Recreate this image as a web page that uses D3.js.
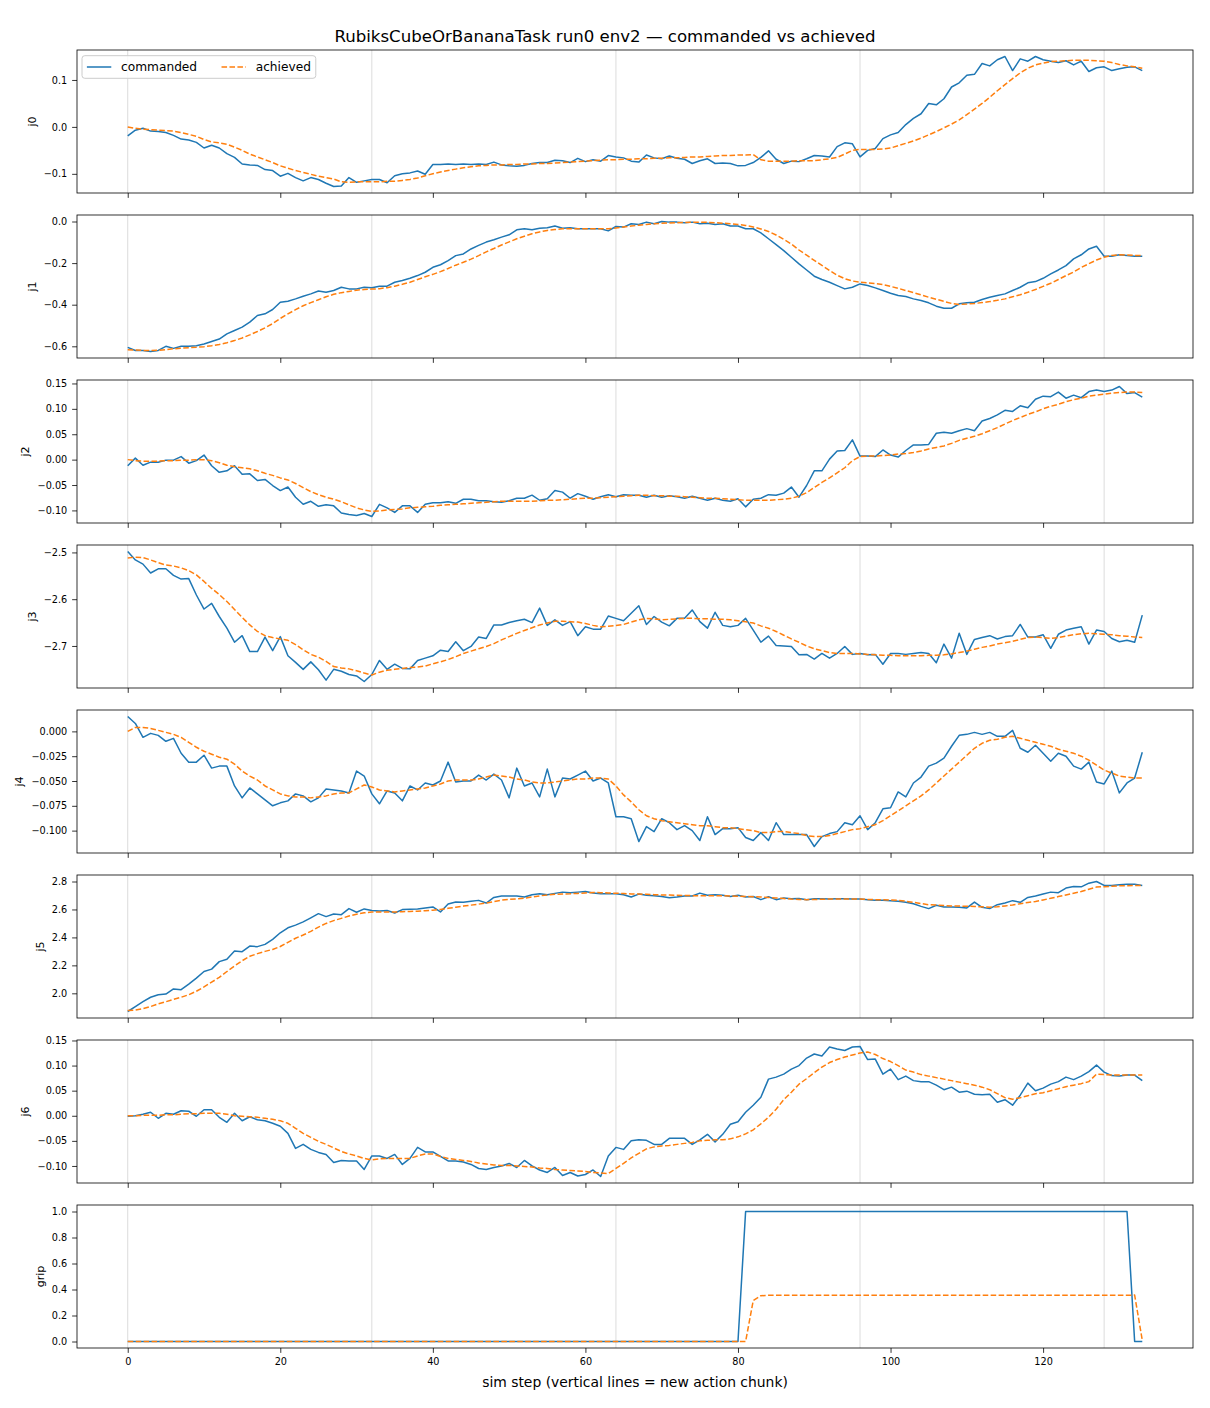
<!DOCTYPE html>
<html>
<head>
<meta charset="utf-8">
<script src="https://cdn.jsdelivr.net/npm/d3@7"></script>
<style>
  body { margin: 0; background: #fff; }
  svg text { font-family: "DejaVu Sans", sans-serif; fill: #000; }
</style>
</head>
<body>
<svg id="fig" width="1210" height="1408"></svg>
<script>
var title = "RubiksCubeOrBananaTask run0 env2 \u2014 commanded vs achieved";
var xLabel = "sim step (vertical lines = new action chunk)";
var steps = d3.range(134);               // sim step index 0..133
var chunkStarts = [0, 32, 64, 96, 128];  // new action chunk
var xTicks = [0, 20, 40, 60, 80, 100, 120];
var jointNames = ["j0", "j1", "j2", "j3", "j4", "j5", "j6", "grip"];

var j0Ticks = [-0.1, 0.0, 0.1];
var j1Ticks = [-0.6, -0.4, -0.2, 0.0];
var j2Ticks = [-0.10, -0.05, 0.00, 0.05, 0.10, 0.15];
var j3Ticks = [-2.7, -2.6, -2.5];
var j4Ticks = [-0.100, -0.075, -0.050, -0.025, 0.000];
var j5Ticks = [2.0, 2.2, 2.4, 2.6, 2.8];
var j6Ticks = [-0.10, -0.05, 0.00, 0.05, 0.10, 0.15];
var gripTicks = [0.0, 0.2, 0.4, 0.6, 0.8, 1.0];
var tickFormats = [".1f", ".1f", ".2f", ".1f", ".3f", ".1f", ".2f", ".1f"];

var j0Cmd = [-0.019,-0.007,-0.003,-0.009,-0.01,-0.012,-0.018,-0.026,-0.028,-0.033,
  -0.045,-0.039,-0.045,-0.057,-0.065,-0.079,-0.081,-0.082,-0.091,-0.093,
  -0.105,-0.099,-0.108,-0.115,-0.108,-0.112,-0.12,-0.127,-0.126,-0.108,
  -0.118,-0.115,-0.112,-0.112,-0.119,-0.104,-0.1,-0.098,-0.094,-0.101,
  -0.08,-0.08,-0.079,-0.08,-0.079,-0.08,-0.079,-0.08,-0.075,-0.081,
  -0.083,-0.084,-0.082,-0.078,-0.076,-0.076,-0.071,-0.072,-0.076,-0.067,
  -0.074,-0.07,-0.073,-0.061,-0.064,-0.066,-0.073,-0.075,-0.06,-0.066,
  -0.068,-0.062,-0.067,-0.069,-0.078,-0.072,-0.068,-0.078,-0.077,-0.078,
  -0.083,-0.082,-0.076,-0.065,-0.051,-0.069,-0.078,-0.073,-0.074,-0.068,
  -0.061,-0.062,-0.064,-0.042,-0.034,-0.036,-0.064,-0.05,-0.046,-0.025,
  -0.017,-0.012,0.005,0.018,0.028,0.05,0.047,0.06,0.085,0.094,
  0.11,0.112,0.135,0.13,0.143,0.15,0.12,0.145,0.14,0.15,
  0.143,0.14,0.137,0.141,0.132,0.14,0.118,0.126,0.128,0.12,
  0.124,0.127,0.128,0.12];
var j0Ach = [0,-0.003,-0.005,-0.006,-0.007,-0.008,-0.009,-0.012,-0.016,-0.02,
  -0.027,-0.032,-0.034,-0.037,-0.043,-0.05,-0.058,-0.064,-0.07,-0.076,
  -0.083,-0.088,-0.093,-0.097,-0.101,-0.105,-0.108,-0.111,-0.117,-0.118,
  -0.117,-0.117,-0.117,-0.117,-0.116,-0.116,-0.114,-0.112,-0.109,-0.104,
  -0.1,-0.096,-0.093,-0.09,-0.087,-0.085,-0.083,-0.082,-0.081,-0.081,
  -0.08,-0.08,-0.079,-0.079,-0.078,-0.078,-0.077,-0.076,-0.075,-0.074,
  -0.073,-0.072,-0.071,-0.07,-0.07,-0.069,-0.069,-0.068,-0.068,-0.067,
  -0.067,-0.066,-0.066,-0.065,-0.064,-0.064,-0.063,-0.062,-0.061,-0.061,
  -0.06,-0.06,-0.059,-0.07,-0.073,-0.073,-0.073,-0.073,-0.072,-0.072,
  -0.072,-0.07,-0.068,-0.065,-0.058,-0.05,-0.048,-0.048,-0.048,-0.047,
  -0.045,-0.04,-0.035,-0.03,-0.024,-0.017,-0.01,-0.002,0.006,0.015,
  0.026,0.038,0.05,0.063,0.077,0.09,0.103,0.115,0.125,0.132,
  0.136,0.139,0.14,0.141,0.142,0.142,0.142,0.141,0.14,0.137,
  0.133,0.13,0.128,0.125];

var j1Cmd = [-0.605,-0.62,-0.62,-0.625,-0.62,-0.6,-0.61,-0.6,-0.6,-0.597,
  -0.589,-0.577,-0.565,-0.54,-0.524,-0.508,-0.484,-0.452,-0.444,-0.423,
  -0.388,-0.383,-0.372,-0.359,-0.348,-0.334,-0.34,-0.332,-0.316,-0.324,
  -0.324,-0.316,-0.319,-0.311,-0.311,-0.292,-0.284,-0.273,-0.26,-0.244,
  -0.22,-0.208,-0.188,-0.164,-0.156,-0.132,-0.115,-0.099,-0.088,-0.075,
  -0.064,-0.04,-0.035,-0.04,-0.032,-0.03,-0.022,-0.032,-0.03,-0.035,
  -0.035,-0.035,-0.035,-0.045,-0.024,-0.027,-0.011,-0.014,-0.003,-0.011,
  0,-0.003,-0.003,-0.006,-0.003,-0.011,-0.008,-0.014,-0.011,-0.022,
  -0.022,-0.035,-0.035,-0.055,-0.083,-0.111,-0.14,-0.172,-0.204,-0.233,
  -0.263,-0.279,-0.292,-0.308,-0.324,-0.316,-0.3,-0.308,-0.319,-0.332,
  -0.345,-0.356,-0.361,-0.372,-0.38,-0.391,-0.407,-0.417,-0.417,-0.396,
  -0.391,-0.388,-0.375,-0.364,-0.356,-0.348,-0.332,-0.316,-0.295,-0.289,
  -0.273,-0.252,-0.233,-0.212,-0.18,-0.16,-0.132,-0.119,-0.167,-0.167,
  -0.16,-0.164,-0.167,-0.167];
var j1Ach = [-0.616,-0.618,-0.62,-0.62,-0.619,-0.616,-0.612,-0.609,-0.607,-0.605,
  -0.602,-0.597,-0.591,-0.583,-0.572,-0.56,-0.545,-0.529,-0.511,-0.491,
  -0.466,-0.444,-0.424,-0.405,-0.39,-0.376,-0.362,-0.35,-0.342,-0.336,
  -0.33,-0.327,-0.325,-0.323,-0.318,-0.311,-0.302,-0.292,-0.279,-0.266,
  -0.254,-0.241,-0.226,-0.21,-0.196,-0.181,-0.164,-0.146,-0.13,-0.113,
  -0.098,-0.083,-0.071,-0.059,-0.05,-0.043,-0.039,-0.035,-0.035,-0.035,
  -0.035,-0.035,-0.035,-0.035,-0.031,-0.026,-0.022,-0.018,-0.014,-0.011,
  -0.009,-0.007,-0.006,-0.005,-0.004,-0.003,-0.004,-0.006,-0.008,-0.011,
  -0.014,-0.019,-0.026,-0.036,-0.048,-0.065,-0.086,-0.108,-0.137,-0.162,
  -0.187,-0.211,-0.236,-0.258,-0.275,-0.286,-0.292,-0.295,-0.298,-0.303,
  -0.312,-0.321,-0.332,-0.342,-0.353,-0.364,-0.374,-0.384,-0.394,-0.399,
  -0.397,-0.394,-0.39,-0.385,-0.379,-0.372,-0.362,-0.352,-0.34,-0.327,
  -0.312,-0.297,-0.279,-0.26,-0.243,-0.221,-0.203,-0.185,-0.172,-0.163,
  -0.16,-0.161,-0.163,-0.164];

var j2Cmd = [-0.012,0.003,-0.011,-0.005,-0.005,-0.001,-0.001,0.006,-0.007,-0.002,
  0.009,-0.012,-0.025,-0.022,-0.012,-0.029,-0.028,-0.041,-0.039,-0.051,
  -0.061,-0.054,-0.074,-0.088,-0.082,-0.092,-0.089,-0.091,-0.105,-0.108,
  -0.11,-0.106,-0.112,-0.088,-0.095,-0.104,-0.091,-0.091,-0.104,-0.088,
  -0.085,-0.085,-0.083,-0.086,-0.078,-0.078,-0.081,-0.081,-0.083,-0.084,
  -0.081,-0.076,-0.076,-0.07,-0.08,-0.077,-0.061,-0.064,-0.076,-0.067,
  -0.072,-0.078,-0.073,-0.069,-0.073,-0.069,-0.07,-0.07,-0.074,-0.07,
  -0.074,-0.071,-0.073,-0.076,-0.072,-0.076,-0.08,-0.076,-0.08,-0.082,
  -0.077,-0.093,-0.078,-0.076,-0.069,-0.07,-0.066,-0.054,-0.074,-0.051,
  -0.022,-0.022,0.001,0.017,0.018,0.039,0.007,0.007,0.006,0.019,
  0.009,0.005,0.018,0.029,0.029,0.03,0.052,0.054,0.052,0.057,
  0.061,0.057,0.076,0.081,0.088,0.097,0.095,0.106,0.102,0.119,
  0.125,0.124,0.133,0.121,0.127,0.122,0.134,0.137,0.134,0.137,
  0.144,0.13,0.132,0.123];
var j2Ach = [0,-0.002,-0.003,-0.003,-0.003,-0.002,-0.002,-0.001,-0.001,0,
  0,-0.002,-0.006,-0.011,-0.014,-0.016,-0.018,-0.022,-0.027,-0.031,
  -0.036,-0.04,-0.047,-0.055,-0.063,-0.069,-0.074,-0.078,-0.083,-0.089,
  -0.095,-0.099,-0.102,-0.101,-0.099,-0.098,-0.097,-0.095,-0.094,-0.093,
  -0.092,-0.09,-0.089,-0.088,-0.087,-0.086,-0.085,-0.084,-0.083,-0.082,
  -0.082,-0.082,-0.082,-0.082,-0.081,-0.08,-0.08,-0.079,-0.078,-0.077,
  -0.076,-0.076,-0.075,-0.074,-0.073,-0.072,-0.071,-0.07,-0.07,-0.071,
  -0.071,-0.072,-0.072,-0.073,-0.074,-0.075,-0.076,-0.076,-0.077,-0.078,
  -0.079,-0.08,-0.08,-0.08,-0.08,-0.079,-0.078,-0.076,-0.072,-0.065,
  -0.055,-0.045,-0.036,-0.026,-0.016,-0.002,0.006,0.007,0.007,0.008,
  0.009,0.011,0.012,0.014,0.017,0.021,0.024,0.027,0.032,0.038,
  0.042,0.046,0.051,0.057,0.063,0.07,0.077,0.083,0.089,0.094,
  0.1,0.105,0.109,0.114,0.118,0.121,0.125,0.127,0.129,0.131,
  0.132,0.133,0.133,0.132];

var j3Cmd = [-2.498,-2.516,-2.525,-2.544,-2.535,-2.535,-2.549,-2.557,-2.556,-2.591,
  -2.621,-2.609,-2.637,-2.662,-2.692,-2.678,-2.712,-2.712,-2.681,-2.71,
  -2.68,-2.721,-2.735,-2.75,-2.734,-2.751,-2.773,-2.75,-2.754,-2.761,
  -2.764,-2.776,-2.761,-2.731,-2.75,-2.739,-2.748,-2.749,-2.731,-2.726,
  -2.721,-2.709,-2.712,-2.691,-2.71,-2.701,-2.681,-2.684,-2.655,-2.655,
  -2.65,-2.646,-2.643,-2.65,-2.619,-2.656,-2.644,-2.656,-2.648,-2.678,
  -2.659,-2.664,-2.664,-2.636,-2.641,-2.646,-2.63,-2.614,-2.654,-2.637,
  -2.649,-2.657,-2.641,-2.641,-2.623,-2.648,-2.662,-2.628,-2.656,-2.659,
  -2.656,-2.641,-2.666,-2.692,-2.679,-2.699,-2.7,-2.701,-2.719,-2.718,
  -2.728,-2.716,-2.726,-2.716,-2.701,-2.718,-2.716,-2.719,-2.718,-2.739,
  -2.716,-2.716,-2.718,-2.716,-2.714,-2.716,-2.736,-2.696,-2.726,-2.673,
  -2.718,-2.686,-2.682,-2.678,-2.685,-2.68,-2.678,-2.654,-2.681,-2.681,
  -2.676,-2.705,-2.675,-2.666,-2.662,-2.659,-2.696,-2.666,-2.669,-2.684,
  -2.691,-2.688,-2.692,-2.634];
var j3Ach = [-2.512,-2.51,-2.511,-2.516,-2.522,-2.527,-2.529,-2.533,-2.539,-2.548,
  -2.562,-2.577,-2.59,-2.605,-2.622,-2.639,-2.655,-2.669,-2.678,-2.682,
  -2.685,-2.688,-2.697,-2.708,-2.718,-2.724,-2.733,-2.744,-2.747,-2.749,
  -2.753,-2.758,-2.762,-2.756,-2.752,-2.75,-2.748,-2.746,-2.745,-2.743,
  -2.738,-2.734,-2.729,-2.723,-2.716,-2.711,-2.706,-2.701,-2.695,-2.687,
  -2.68,-2.673,-2.667,-2.661,-2.655,-2.651,-2.647,-2.647,-2.648,-2.649,
  -2.652,-2.656,-2.659,-2.658,-2.656,-2.654,-2.649,-2.644,-2.641,-2.642,
  -2.644,-2.643,-2.642,-2.641,-2.641,-2.642,-2.642,-2.643,-2.643,-2.644,
  -2.646,-2.648,-2.651,-2.657,-2.662,-2.669,-2.677,-2.685,-2.692,-2.7,
  -2.706,-2.71,-2.714,-2.716,-2.716,-2.716,-2.717,-2.718,-2.719,-2.72,
  -2.72,-2.721,-2.721,-2.721,-2.721,-2.72,-2.72,-2.719,-2.717,-2.714,
  -2.711,-2.707,-2.703,-2.7,-2.696,-2.693,-2.69,-2.686,-2.682,-2.681,
  -2.682,-2.684,-2.682,-2.679,-2.676,-2.674,-2.673,-2.674,-2.675,-2.676,
  -2.678,-2.679,-2.681,-2.682];

var j4Cmd = [0.015,0.008,-0.006,-0.002,-0.004,-0.01,-0.007,-0.022,-0.031,-0.031,
  -0.024,-0.037,-0.035,-0.035,-0.055,-0.067,-0.057,-0.063,-0.069,-0.075,
  -0.072,-0.07,-0.063,-0.065,-0.071,-0.067,-0.058,-0.059,-0.06,-0.062,
  -0.04,-0.045,-0.063,-0.073,-0.06,-0.062,-0.07,-0.055,-0.059,-0.052,
  -0.054,-0.05,-0.031,-0.051,-0.05,-0.05,-0.044,-0.049,-0.043,-0.049,
  -0.067,-0.037,-0.055,-0.052,-0.066,-0.038,-0.066,-0.047,-0.048,-0.044,
  -0.04,-0.05,-0.047,-0.052,-0.086,-0.086,-0.088,-0.111,-0.096,-0.101,
  -0.088,-0.092,-0.099,-0.095,-0.1,-0.11,-0.086,-0.104,-0.098,-0.098,
  -0.097,-0.107,-0.11,-0.102,-0.11,-0.092,-0.104,-0.104,-0.104,-0.104,
  -0.116,-0.106,-0.103,-0.101,-0.092,-0.094,-0.085,-0.099,-0.092,-0.078,
  -0.077,-0.061,-0.066,-0.052,-0.046,-0.035,-0.032,-0.027,-0.015,-0.004,
  -0.003,-0.001,-0.003,-0.001,-0.005,-0.005,0.001,-0.017,-0.021,-0.014,
  -0.022,-0.03,-0.022,-0.025,-0.035,-0.038,-0.031,-0.051,-0.053,-0.04,
  -0.062,-0.052,-0.047,-0.021];
var j4Ach = [0,0.004,0.004,0.003,0.001,-0.001,-0.003,-0.006,-0.011,-0.016,
  -0.02,-0.023,-0.026,-0.028,-0.033,-0.04,-0.045,-0.049,-0.055,-0.059,
  -0.063,-0.065,-0.066,-0.066,-0.067,-0.066,-0.065,-0.063,-0.062,-0.062,
  -0.058,-0.054,-0.056,-0.059,-0.06,-0.061,-0.06,-0.059,-0.058,-0.057,
  -0.055,-0.053,-0.05,-0.049,-0.049,-0.049,-0.048,-0.046,-0.044,-0.045,
  -0.046,-0.048,-0.049,-0.051,-0.052,-0.052,-0.051,-0.05,-0.049,-0.048,
  -0.048,-0.047,-0.047,-0.048,-0.055,-0.064,-0.071,-0.079,-0.085,-0.088,
  -0.09,-0.091,-0.092,-0.093,-0.094,-0.095,-0.095,-0.096,-0.097,-0.097,
  -0.098,-0.099,-0.1,-0.102,-0.102,-0.101,-0.101,-0.102,-0.103,-0.105,
  -0.106,-0.106,-0.105,-0.103,-0.101,-0.099,-0.098,-0.096,-0.094,-0.09,
  -0.085,-0.08,-0.075,-0.07,-0.065,-0.059,-0.052,-0.045,-0.038,-0.031,
  -0.024,-0.017,-0.012,-0.009,-0.008,-0.006,-0.005,-0.007,-0.009,-0.011,
  -0.013,-0.015,-0.018,-0.02,-0.022,-0.025,-0.029,-0.034,-0.039,-0.042,
  -0.045,-0.046,-0.047,-0.047];

var j5Cmd = [1.87,1.905,1.94,1.972,1.99,1.995,2.031,2.026,2.066,2.109,
  2.156,2.173,2.227,2.244,2.303,2.298,2.338,2.334,2.35,2.386,
  2.433,2.469,2.488,2.511,2.54,2.57,2.549,2.568,2.563,2.606,
  2.58,2.604,2.592,2.589,2.592,2.575,2.599,2.601,2.604,2.611,
  2.618,2.582,2.639,2.653,2.651,2.658,2.665,2.646,2.686,2.696,
  2.696,2.696,2.689,2.705,2.712,2.705,2.715,2.724,2.72,2.724,
  2.729,2.717,2.712,2.712,2.712,2.705,2.689,2.71,2.701,2.698,
  2.693,2.684,2.689,2.696,2.696,2.717,2.701,2.705,2.701,2.693,
  2.701,2.689,2.693,2.67,2.691,2.67,2.682,2.677,2.679,2.67,
  2.677,2.677,2.675,2.677,2.677,2.675,2.675,2.67,2.665,2.665,
  2.663,2.658,2.651,2.641,2.622,2.606,2.63,2.618,2.618,2.615,
  2.611,2.653,2.615,2.606,2.634,2.646,2.663,2.651,2.686,2.696,
  2.71,2.724,2.72,2.753,2.764,2.762,2.788,2.8,2.772,2.772,
  2.776,2.781,2.781,2.772];
var j5Ach = [1.878,1.88,1.89,1.905,1.925,1.94,1.957,1.972,1.99,2.015,
  2.046,2.08,2.114,2.156,2.196,2.233,2.265,2.284,2.3,2.314,
  2.335,2.365,2.394,2.417,2.443,2.474,2.5,2.52,2.536,2.553,
  2.566,2.576,2.582,2.582,2.582,2.582,2.584,2.586,2.587,2.591,
  2.595,2.6,2.608,2.616,2.624,2.631,2.638,2.646,2.656,2.667,
  2.672,2.676,2.681,2.689,2.697,2.704,2.708,2.711,2.712,2.715,
  2.718,2.722,2.72,2.718,2.716,2.714,2.711,2.71,2.708,2.706,
  2.704,2.703,2.702,2.7,2.699,2.698,2.698,2.698,2.698,2.697,
  2.695,2.693,2.691,2.689,2.686,2.682,2.678,2.674,2.672,2.67,
  2.671,2.673,2.675,2.675,2.675,2.675,2.674,2.672,2.67,2.669,
  2.667,2.665,2.659,2.651,2.642,2.634,2.631,2.628,2.625,2.624,
  2.623,2.621,2.619,2.616,2.619,2.625,2.632,2.641,2.65,2.657,
  2.668,2.68,2.692,2.704,2.716,2.728,2.745,2.76,2.763,2.766,
  2.769,2.77,2.771,2.772];

var j6Cmd = [-0.001,0,0.003,0.007,-0.005,0.005,0.003,0.01,0.009,-0.001,
  0.012,0.012,-0.003,-0.013,0.005,-0.01,-0.002,-0.008,-0.01,-0.015,
  -0.021,-0.035,-0.065,-0.057,-0.067,-0.073,-0.077,-0.093,-0.089,-0.09,
  -0.09,-0.107,-0.08,-0.08,-0.085,-0.077,-0.097,-0.085,-0.063,-0.072,
  -0.072,-0.081,-0.09,-0.09,-0.092,-0.097,-0.105,-0.107,-0.103,-0.1,
  -0.095,-0.103,-0.089,-0.1,-0.108,-0.113,-0.103,-0.119,-0.113,-0.12,
  -0.117,-0.108,-0.121,-0.08,-0.063,-0.067,-0.05,-0.048,-0.049,-0.057,
  -0.057,-0.045,-0.045,-0.045,-0.057,-0.048,-0.037,-0.052,-0.037,-0.017,
  -0.012,0.007,0.021,0.037,0.073,0.077,0.083,0.093,0.1,0.115,
  0.123,0.119,0.137,0.133,0.13,0.137,0.138,0.112,0.113,0.083,
  0.093,0.072,0.079,0.07,0.068,0.068,0.061,0.052,0.057,0.047,
  0.049,0.043,0.042,0.043,0.027,0.032,0.021,0.041,0.065,0.05,
  0.055,0.063,0.068,0.077,0.072,0.079,0.088,0.101,0.087,0.08,
  0.079,0.081,0.081,0.07];
var j6Ach = [0,0,0.001,0.001,0.001,0.002,0.002,0.003,0.004,0.004,
  0.005,0.005,0.005,0.003,0,-0.001,-0.002,-0.003,-0.005,-0.007,
  -0.01,-0.015,-0.025,-0.035,-0.043,-0.051,-0.057,-0.064,-0.071,-0.076,
  -0.08,-0.085,-0.088,-0.086,-0.085,-0.085,-0.085,-0.085,-0.08,-0.076,
  -0.076,-0.081,-0.085,-0.087,-0.089,-0.091,-0.094,-0.096,-0.098,-0.099,
  -0.099,-0.1,-0.101,-0.102,-0.104,-0.105,-0.107,-0.108,-0.109,-0.11,
  -0.111,-0.113,-0.114,-0.115,-0.105,-0.095,-0.084,-0.075,-0.066,-0.062,
  -0.06,-0.059,-0.057,-0.055,-0.053,-0.05,-0.049,-0.048,-0.048,-0.046,
  -0.042,-0.036,-0.028,-0.016,-0.003,0.013,0.032,0.047,0.063,0.074,
  0.086,0.097,0.106,0.112,0.117,0.121,0.125,0.127,0.122,0.114,
  0.108,0.1,0.091,0.087,0.082,0.079,0.076,0.073,0.07,0.067,
  0.064,0.061,0.057,0.052,0.044,0.036,0.033,0.036,0.04,0.044,
  0.046,0.05,0.054,0.058,0.061,0.064,0.068,0.083,0.082,0.081,
  0.081,0.081,0.081,0.081];

var gripCmd = [0,0,0,0,0,0,0,0,0,0, 0,0,0,0,0,0,0,0,0,0,
  0,0,0,0,0,0,0,0,0,0, 0,0,0,0,0,0,0,0,0,0,
  0,0,0,0,0,0,0,0,0,0, 0,0,0,0,0,0,0,0,0,0,
  0,0,0,0,0,0,0,0,0,0, 0,0,0,0,0,0,0,0,0,0,
  0,1,1,1,1,1,1,1,1,1, 1,1,1,1,1,1,1,1,1,1,
  1,1,1,1,1,1,1,1,1,1, 1,1,1,1,1,1,1,1,1,1,
  1,1,1,1,1,1,1,1,1,1, 1,1,0,0];
var gripAch = [0,0,0,0,0,0,0,0,0,0, 0,0,0,0,0,0,0,0,0,0,
  0,0,0,0,0,0,0,0,0,0, 0,0,0,0,0,0,0,0,0,0,
  0,0,0,0,0,0,0,0,0,0, 0,0,0,0,0,0,0,0,0,0,
  0,0,0,0,0,0,0,0,0,0, 0,0,0,0,0,0,0,0,0,0,
  0,0,0.315,0.352,0.355,0.355,0.355,0.355,0.355,0.355,
  0.355,0.355,0.355,0.355,0.355,0.355,0.355,0.355,0.355,0.355,
  0.355,0.356,0.356,0.356,0.356,0.356,0.356,0.356,0.356,0.356,
  0.356,0.356,0.356,0.356,0.356,0.356,0.356,0.356,0.356,0.356,
  0.356,0.356,0.356,0.356,0.356,0.356,0.356,0.356,0.356,0.356,
  0.356,0.356,0.357,0.01];

var panels = [
  { name: jointNames[0], cmd: j0Cmd, ach: j0Ach, ticks: j0Ticks, fmt: tickFormats[0] },
  { name: jointNames[1], cmd: j1Cmd, ach: j1Ach, ticks: j1Ticks, fmt: tickFormats[1] },
  { name: jointNames[2], cmd: j2Cmd, ach: j2Ach, ticks: j2Ticks, fmt: tickFormats[2] },
  { name: jointNames[3], cmd: j3Cmd, ach: j3Ach, ticks: j3Ticks, fmt: tickFormats[3] },
  { name: jointNames[4], cmd: j4Cmd, ach: j4Ach, ticks: j4Ticks, fmt: tickFormats[4] },
  { name: jointNames[5], cmd: j5Cmd, ach: j5Ach, ticks: j5Ticks, fmt: tickFormats[5] },
  { name: jointNames[6], cmd: j6Cmd, ach: j6Ach, ticks: j6Ticks, fmt: tickFormats[6] },
  { name: jointNames[7], cmd: gripCmd, ach: gripAch, ticks: gripTicks, fmt: tickFormats[7] }
];

var svg = d3.select("#fig");
var left = 77, right = 1193, top0 = 50, pitch = 165, ph = 143;
var blue = "#1f77b4", orange = "#ff7f0e";

var xMax = steps[steps.length - 1];
var x = d3.scaleLinear()
    .domain([-0.05 * xMax, xMax * 1.05])
    .range([left, right]);

svg.append("text")
    .attr("x", 605)
    .attr("y", 42)
    .attr("text-anchor", "middle")
    .style("font-size", "16.6px")
    .text(title);

panels.forEach(function (p, k) {
    var g = svg.append("g")
        .attr("transform", "translate(0," + (top0 + k * pitch) + ")");

    var lo = Math.min(d3.min(p.cmd), d3.min(p.ach));
    var hi = Math.max(d3.max(p.cmd), d3.max(p.ach));
    var pad = (hi - lo) * 0.05;
    var y = d3.scaleLinear().domain([lo - pad, hi + pad]).range([ph, 0]);

    // action chunk markers
    g.selectAll(".chunk")
        .data(chunkStarts)
        .enter().append("line")
        .attr("class", "chunk")
        .attr("x1", function (d) { return x(d); })
        .attr("x2", function (d) { return x(d); })
        .attr("y1", 0)
        .attr("y2", ph)
        .style("stroke", "#dcdcdc")
        .style("stroke-width", 1);

    var line = d3.line()
        .x(function (d, i) { return x(steps[i]); })
        .y(function (d) { return y(d); });

    g.append("path")
        .attr("d", line(p.cmd))
        .style("fill", "none")
        .style("stroke", blue)
        .style("stroke-width", 1.5)
        .style("stroke-linejoin", "round");

    g.append("path")
        .attr("d", line(p.ach))
        .style("fill", "none")
        .style("stroke", orange)
        .style("stroke-width", 1.5)
        .style("stroke-dasharray", "5.55,2.4")
        .style("stroke-linejoin", "round");

    g.append("rect")
        .attr("x", left)
        .attr("y", 0)
        .attr("width", right - left)
        .attr("height", ph)
        .style("fill", "none")
        .style("stroke", "#000")
        .style("stroke-width", 0.8);

    var ya = g.append("g")
        .attr("transform", "translate(" + left + ",0)")
        .attr("color", "#000")
        .call(d3.axisLeft(y).tickValues(p.ticks).tickFormat(d3.format(p.fmt))
            .tickSize(4.86).tickPadding(4.86).tickSizeOuter(0));
    ya.select(".domain").remove();
    ya.selectAll("line").style("stroke-width", 0.8);
    ya.selectAll("text").style("font-size", "9.7px");

    var xa = g.append("g")
        .attr("transform", "translate(0," + ph + ")")
        .attr("color", "#000")
        .call(d3.axisBottom(x).tickValues(xTicks).tickFormat(d3.format("d"))
            .tickSize(4.86).tickPadding(4.86).tickSizeOuter(0));
    xa.select(".domain").remove();
    xa.selectAll("line").style("stroke-width", 0.8);
    xa.selectAll("text").style("font-size", "9.7px");
    if (k < panels.length - 1) xa.selectAll("text").remove();

    var bb = ya.node().getBBox();
    g.append("text")
        .attr("transform", "translate(" + (left + bb.x - 8.2) + "," + (ph / 2) + ") rotate(-90)")
        .attr("text-anchor", "middle")
        .style("font-size", "11.1px")
        .text(p.name);
});

svg.append("text")
    .attr("x", (left + right) / 2)
    .attr("y", 1387)
    .attr("text-anchor", "middle")
    .style("font-size", "13.9px")
    .text(xLabel);

// legend (top-left of first panel)
var fs = 12.2;
var lg = svg.append("g").attr("transform", "translate(82,55.7)");
var box = lg.append("rect")
    .attr("rx", 2.8)
    .attr("height", 22.6)
    .style("fill", "#fff")
    .style("fill-opacity", 0.8)
    .style("stroke", "#cccccc")
    .style("stroke-width", 1);
var items = [
  { label: "commanded", color: blue, dash: null },
  { label: "achieved", color: orange, dash: "5.55,2.4" }
];
var cx = 0.4 * fs;
items.forEach(function (it) {
    lg.append("line")
        .attr("x1", cx).attr("x2", cx + 2 * fs)
        .attr("y1", 11.3).attr("y2", 11.3)
        .style("stroke", it.color)
        .style("stroke-width", 1.5)
        .style("stroke-dasharray", it.dash);
    var t = lg.append("text")
        .attr("x", cx + 2.8 * fs)
        .attr("y", 15.6)
        .style("font-size", fs + "px")
        .text(it.label);
    cx = cx + 2.8 * fs + t.node().getComputedTextLength() + 2 * fs;
});
box.attr("width", cx - 2 * fs + 0.4 * fs);
</script>
</body>
</html>
